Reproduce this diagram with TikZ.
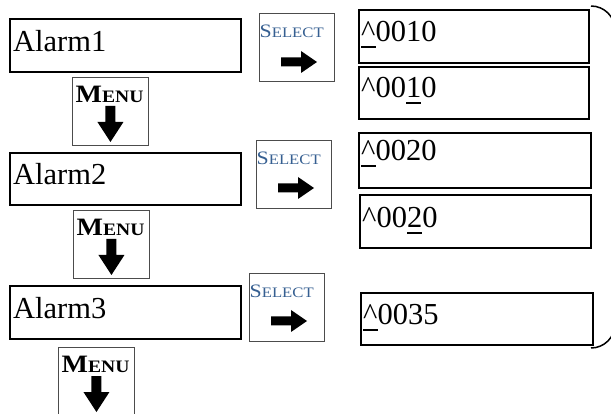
\documentclass[tikz,border=0pt]{standalone}
\usepackage{fontspec}
\usepackage{graphicx}
\setmainfont{Liberation Serif}
\usetikzlibrary{calc}
\definecolor{selblue}{RGB}{54,95,145}
\newsavebox\ulxbox
\newcommand\ulx[1]{\sbox\ulxbox{#1}\rlap{\rule[-6pt]{\wd\ulxbox}{1.8pt}}\usebox\ulxbox}
\newcommand\seltxt{\scalebox{1.15}[1]{{\fontsize{19}{19}\selectfont S}{\fontsize{14.5}{15}\selectfont ELECT}}}
\newcommand\menutxt{\scalebox{1.12}[1]{{\fontsize{25}{25}\selectfont\bfseries M}{\fontsize{17.5}{18}\selectfont\bfseries ENU}}}
\begin{document}
\begin{tikzpicture}[x=1pt,y=-1pt,
  abox/.style={draw=black,line width=1.7pt,inner sep=0pt,anchor=north west},
  kbox/.style={draw=black!70,line width=0.9pt,inner sep=0pt,anchor=north west,minimum width=75pt,minimum height=68pt},
  big/.style={inner sep=0pt,anchor=base west,font=\fontsize{30.5}{31}\selectfont},
  seltext/.style={inner sep=0pt,anchor=base west,text=selblue},
  menutext/.style={inner sep=0pt,anchor=base west},
  rarrow/.pic={\fill[black] (0,-4.5) -- (20,-4.5) -- (20,-11) -- (36,0) -- (20,11) -- (20,4.5) -- (0,4.5) -- cycle;},
  darrow/.pic={\fill[black] (-5,0) -- (5,0) -- (5,16) -- (13,16) -- (0,36) -- (-13,16) -- (-5,16) -- cycle;}
]
\useasboundingbox (0,0) rectangle (611,414);

% Alarm boxes
\node[abox,minimum width=231pt,minimum height=53pt] (a1) at (9,18) {};
\node[abox,minimum width=231pt,minimum height=52pt] (a2) at (9,152) {};
\node[abox,minimum width=231pt,minimum height=53pt] (a3) at (9,285) {};
\node[big] (a1t) at ($(a1.north west)+(4,34)$) {Alarm1};
\node[big] (a2t) at ($(a2.north west)+(4,33)$) {Alarm2};
\node[big] (a3t) at ($(a3.north west)+(4,34)$) {Alarm3};

% Value boxes
\node[abox,minimum width=230pt,minimum height=53pt] (v1) at (358,9) {};
\node[abox,minimum width=230pt,minimum height=52pt] (v2) at (358,66) {};
\node[abox,minimum width=232pt,minimum height=55pt] (v3) at (358,132) {};
\node[abox,minimum width=231pt,minimum height=53pt] (v4) at (359,194) {};
\node[abox,minimum width=232pt,minimum height=52pt] (v5) at (360,292) {};
\node[big] (v1t) at ($(v1.north west)+(3,33)$) {\ulx{\textasciicircum}0010};
\node[big] (v2t) at ($(v2.north west)+(3,32)$) {\textasciicircum00\ulx{1}0};
\node[big] (v3t) at ($(v3.north west)+(3,29)$) {\ulx{\textasciicircum}0020};
\node[big] (v4t) at ($(v4.north west)+(3,34)$) {\textasciicircum00\ulx{2}0};
\node[big] (v5t) at ($(v5.north west)+(3,33)$) {\ulx{\textasciicircum}0035};

% SELECT keys
\node[kbox] (s1) at (259,13) {};
\node[kbox] (s2) at (256,140) {};
\node[kbox] (s3) at (249,273) {};
\node[seltext] (s1t) at ($(s1.north west)+(0.5,25)$) {\seltxt};
\node[seltext] (s2t) at ($(s2.north west)+(0.5,25)$) {\seltxt};
\node[seltext] (s3t) at ($(s3.north west)+(0.5,25)$) {\seltxt};
\pic at ($(s1.north west)+(22,49)$) {rarrow};
\pic at ($(s2.north west)+(22,48)$) {rarrow};
\pic at ($(s3.north west)+(22,48)$) {rarrow};

% MENU keys
\node[kbox,minimum width=76pt] (m1) at (72,77) {};
\node[kbox,minimum width=76pt] (m2) at (73,210) {};
\node[kbox,minimum width=76pt,minimum height=72pt] (m3) at (58,347) {};
\node[menutext] (m1t) at ($(m1.north west)+(3.5,26)$) {\menutxt};
\node[menutext] (m2t) at ($(m2.north west)+(3.5,26)$) {\menutxt};
\node[menutext] (m3t) at ($(m3.north west)+(3.5,26)$) {\menutxt};
\pic at ($(m1.north)+(0,29)$) {darrow};
\pic at ($(m2.north)+(0,29)$) {darrow};
\pic at ($(m3.north)+(0,29)$) {darrow};

% bracket on the right
\coordinate (bt) at (591,6);
\coordinate (bb) at (591,348);
\draw[line width=1.5pt,rounded corners=24pt] (bt) -- (615,6) -- (615,348) -- (bb);
\end{tikzpicture}
\end{document}
